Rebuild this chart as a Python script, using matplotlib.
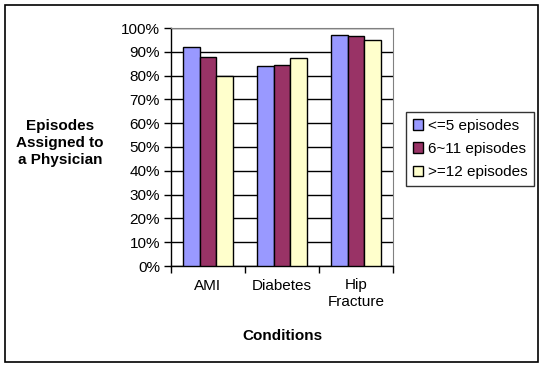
import numpy as np
import matplotlib
matplotlib.use("Agg")
import matplotlib.pyplot as plt
from matplotlib.patches import Rectangle
from matplotlib.ticker import PercentFormatter

conditions = ["AMI", "Diabetes", "Hip\nFracture"]
series_names = ["<=5 episodes", "6~11 episodes", ">=12 episodes"]
le5 = [92, 84, 97]
mid = [88, 84.5, 96.5]
ge12 = [80, 87.5, 95]
colors = ["#9999FF", "#993366", "#FFFFCC"]

plt.rcParams["font.family"] = ["Liberation Sans", "DejaVu Sans"]

W, H = 545, 368
fig = plt.figure(figsize=(W / 100, H / 100), dpi=100)

# outer chart border
fig.patches.append(Rectangle((5 / W, 1 - 362 / H), 533 / W, 357 / H,
                             transform=fig.transFigure, fill=False,
                             edgecolor="black", linewidth=1.2))

ax = fig.add_axes([171 / W, 1 - 266 / H, 222 / W, 238 / H])
x = np.arange(len(conditions))
width = 0.226
for i, (vals, name) in enumerate(zip([le5, mid, ge12], series_names)):
    ax.bar(x + (i - 1) * width, vals, width, color=colors[i], edgecolor="black",
           linewidth=1.0, label=name, zorder=3)

ax.set_xlim(-0.5, 2.5)
ax.set_ylim(0, 100)
ax.set_yticks(np.arange(0, 101, 10))
ax.yaxis.set_major_formatter(PercentFormatter(decimals=0))
ax.yaxis.grid(True, color="black", linewidth=1.0, zorder=0)
ax.set_axisbelow(True)

ax.set_xticks([-0.5, 0.5, 1.5, 2.5], minor=False)
ax.set_xticklabels([])
ax.set_xticks(x, minor=True)
ax.set_xticklabels(conditions, minor=True, fontsize=11)
ax.tick_params(axis="x", which="minor", length=0, pad=9)
ax.tick_params(axis="x", which="major", length=5, direction="out", width=1)
ax.tick_params(axis="y", length=5, direction="out", width=1, labelsize=11, pad=3)

for side in ["top", "right"]:
    ax.spines[side].set_color("#808080")
for side in ["left", "bottom"]:
    ax.spines[side].set_color("black")
    ax.spines[side].set_linewidth(1.0)

fig.text(60 / W, 1 - 143 / H, "Episodes\nAssigned to\na Physician", ha="center",
         va="center", fontsize=11, fontweight="bold", linespacing=1.3)
fig.text(282 / W, 1 - 336 / H, "Conditions", ha="center", va="center",
         fontsize=11, fontweight="bold")

leg = fig.legend(loc="center", bbox_to_anchor=(470 / W, 1 - 149 / H), fontsize=11,
                 frameon=True, fancybox=False, edgecolor="black",
                 handlelength=0.7, handleheight=0.7, handletextpad=0.3,
                 borderpad=0.45, labelspacing=0.62, borderaxespad=0)
leg.get_frame().set_linewidth(1.0)

fig.savefig("out.png", dpi=100)
